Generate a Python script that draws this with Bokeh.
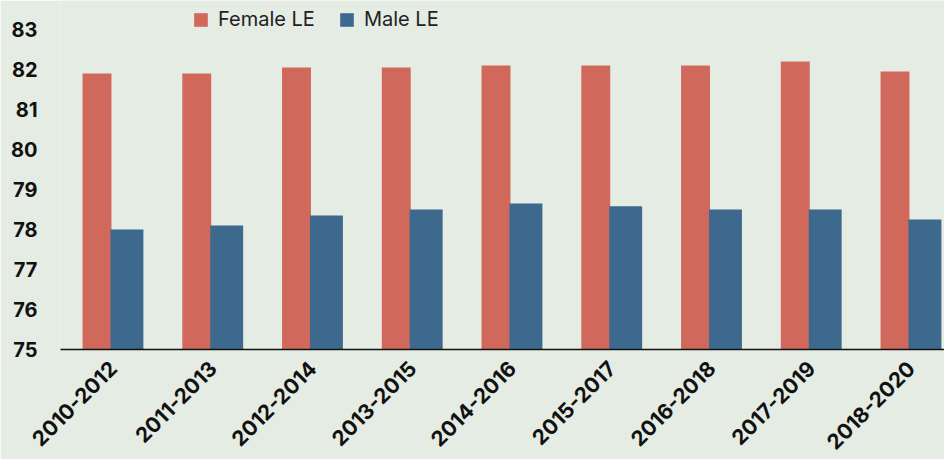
import math
from bokeh.plotting import figure
from bokeh.models import Range1d, FixedTicker, Legend, LegendItem, ColumnDataSource
from bokeh.transform import dodge
from bokeh.embed import file_html
from bokeh.resources import INLINE

periods = ["2010-2012", "2011-2013", "2012-2014", "2013-2015", "2014-2016",
           "2015-2017", "2016-2018", "2017-2019", "2018-2020"]
female_le = [81.9, 81.9, 82.05, 82.05, 82.1, 82.1, 82.1, 82.2, 81.95]
male_le = [78.0, 78.1, 78.35, 78.5, 78.65, 78.58, 78.5, 78.5, 78.25]
y_ticks = [75, 76, 77, 78, 79, 80, 81, 82, 83]

FEMALE = "#D0695B"
MALE = "#3E698E"
BG = "#E5ECE4"
FONT = "Inter"

idx = list(range(len(periods)))
src = ColumnDataSource(dict(x=idx, female=female_le, male=male_le))

p = figure(width=944, height=459, output_backend="svg", toolbar_location=None,
           x_range=Range1d(-0.526, 8.336), y_range=Range1d(75, 83.725),
           min_border_left=60, min_border_right=0, min_border_top=0, min_border_bottom=110)

r_f = p.vbar(x=dodge("x", -0.16, range=p.x_range), top="female", bottom=75, width=0.29,
             source=src, fill_color=FEMALE, line_color=None)
r_m = p.vbar(x=dodge("x", 0.14, range=p.x_range), top="male", bottom=75, width=0.33,
             source=src, fill_color=MALE, line_color=None)

p.background_fill_color = BG
p.border_fill_color = BG
p.outline_line_color = None
p.xgrid.visible = False
p.ygrid.visible = False

p.yaxis.ticker = FixedTicker(ticks=y_ticks)
p.yaxis.axis_line_color = None
p.yaxis.major_tick_line_color = None
p.yaxis.minor_tick_line_color = None
p.yaxis.major_label_text_font = FONT
p.yaxis.major_label_text_font_style = "bold"
p.yaxis.major_label_text_font_size = "20px"
p.yaxis.major_label_text_color = "#111111"
p.yaxis.major_label_standoff = 17

p.xaxis.ticker = FixedTicker(ticks=idx)
p.xaxis.major_label_overrides = {i: s for i, s in enumerate(periods)}
p.xaxis.major_label_orientation = math.pi / 4
p.xaxis.axis_line_color = "#111111"
p.xaxis.axis_line_width = 1.5
p.xaxis.major_tick_line_color = None
p.xaxis.minor_tick_line_color = None
p.xaxis.major_label_text_font = FONT
p.xaxis.major_label_text_font_style = "bold"
p.xaxis.major_label_text_font_size = "21px"
p.xaxis.major_label_text_color = "#111111"
p.xaxis.major_label_standoff = 9

legend = Legend(items=[LegendItem(label="Female LE", renderers=[r_f]),
                       LegendItem(label="Male LE", renderers=[r_m])],
                orientation="horizontal", location=(132, 318),
                padding=0, margin=0, spacing=23, label_standoff=9,
                glyph_width=17, glyph_height=17, label_height=17,
                label_text_font=FONT, label_text_font_size="20px",
                label_text_color="#222222",
                border_line_color=None, background_fill_alpha=0)
p.add_layout(legend)

open("out.html", "w").write(file_html(p, INLINE))
